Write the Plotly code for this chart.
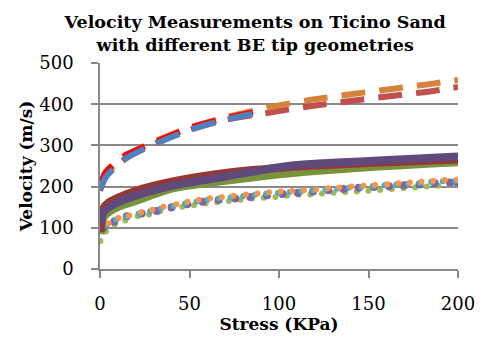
import plotly.graph_objects as go

# ---- Data ----
# Dashed series
dash_x_long = [0, 3, 8, 15, 28, 50, 70, 95, 117, 140, 163, 186, 200]
dash_orange = [200, 228, 250, 275, 305, 343, 368, 393, 410, 424, 437, 450, 459]
dash_darkred = [190, 222, 245, 270, 300, 338, 362, 380, 395, 408, 420, 432, 442]
dash_x_short = [0, 3, 8, 15, 28, 50, 70, 92]
dash_red = [202, 234, 256, 278, 303, 342, 366, 386]
dash_blue = [193, 222, 245, 270, 298, 337, 362, 382]

# Solid series
solid_x = [0.3, 2, 5, 10, 20, 40, 70, 105, 150, 200]
solid_red = [90, 148, 162, 173, 190, 212, 233, 247, 257, 266]
solid_purple = [108, 138, 150, 162, 178, 202, 224, 250, 262, 273]
solid_green = [85, 125, 138, 150, 165, 195, 214, 232, 247, 259]

# Dotted series
dot_green_x = [0.2, 3.3, 8.2, 14.1, 21.1, 27.4, 33.5, 39.6, 46, 52.5, 59, 65.5, 72, 78.5, 85, 91.5,
               98, 104.5, 111, 117.5, 124, 130.5, 137, 143.5, 150, 156.5, 163, 169.5, 176, 182.5, 189, 195.5]
dot_green = [68, 91, 108, 118, 128, 132, 140, 146, 151, 155, 159, 162, 165, 168, 171, 173,
             175, 178, 180, 181, 183, 185, 187, 188, 190, 192, 194, 196, 198, 200, 202, 205]
dot_purple_x = [2, 8, 15, 23.3, 31.7, 40, 48.7, 57.4, 66.3, 75.5, 84, 93.3, 102, 110.5, 119, 127.5,
                136, 144.5, 153, 161.5, 170, 178.5, 187, 195.5, 199]
dot_purple = [100, 115, 128, 135, 141, 150, 157, 163, 168, 171, 175, 179, 182, 185, 188, 191,
              194, 197, 199, 201, 203, 205, 208, 210, 211]
dot_cyan_x = [0.5, 3.5, 9, 15, 21.5, 28, 34, 41, 47.5, 54, 60, 66.5, 73, 80, 86.5, 93, 99.5, 106,
              112.5, 119, 126, 132.5, 139, 146, 152.5, 159, 165.5, 172, 178.5, 185, 191.5, 198.5]
dot_cyan = [95, 106, 120, 127, 134, 140, 147, 153, 159, 164, 168, 171, 174, 177, 180, 183, 185, 187,
            189, 191, 193, 195, 197, 199, 201, 203, 205, 207, 209, 211, 213, 214]
dot_orange_x = [1, 4.8, 10.4, 16.3, 22.9, 29.3, 35.4, 42.6, 48.9, 55.2, 61.5, 68.1, 74.6, 81.5, 88, 94.4,
                100.9, 107.4, 113.9, 120.7, 127.4, 133.7, 140.4, 147.2, 153.7, 160.4, 166.7, 173.1,
                179.6, 186.1, 192.6, 199.6]
dot_orange = [98, 111, 124, 130, 137, 144, 151, 157, 163, 168, 172, 175, 178, 181, 183, 186,
              188, 189.5, 191, 193, 196, 198, 200.5, 202, 204, 205.5, 208, 210, 212, 214, 216, 217]

x_ticks = [0, 50, 100, 150, 200]
y_ticks = [0, 100, 200, 300, 400, 500]

FONT = "DejaVu Serif"
GRID = "#898989"

fig = go.Figure()

def dots(x, y, color, size):
    fig.add_trace(go.Scatter(x=x, y=y, mode="markers",
                             marker=dict(color=color, size=size, line=dict(width=0)),
                             showlegend=False, hoverinfo="skip"))

def solid(x, y, color):
    fig.add_trace(go.Scatter(x=x, y=y, mode="lines",
                             line=dict(color=color, width=8, shape="spline", smoothing=0.8),
                             showlegend=False, hoverinfo="skip"))

def dashed(x, y, color):
    fig.add_trace(go.Scatter(x=x, y=y, mode="lines",
                             line=dict(color=color, width=6, dash="24px,14px", shape="spline", smoothing=0.8),
                             showlegend=False, hoverinfo="skip"))

dots(dot_green_x, dot_green, "#9BBB59", 6)
dots(dot_purple_x, dot_purple, "#8064A2", 8)
dots(dot_cyan_x, dot_cyan, "#4BACC6", 6)
dots(dot_orange_x, dot_orange, "#F79646", 6)

solid(solid_x, solid_green, "#77933C")
solid(solid_x, solid_red, "#953735")
solid(solid_x, solid_purple, "#604A7B")

dashed(dash_x_long, dash_darkred, "#C0504D")
dashed(dash_x_long, dash_orange, "#D7823C")
dashed(dash_x_short, dash_red, "#FF0000")
dashed(dash_x_short, dash_blue, "#4F81BD")

fig.update_layout(
    width=487, height=343,
    margin=dict(l=100, r=27, t=63, b=66),
    paper_bgcolor="white", plot_bgcolor="white",
    font=dict(family=FONT, color="#000000", size=18),
    title=dict(text="<b>Velocity Measurements on Ticino Sand<br>with different BE tip geometries</b>",
               x=0.524, xanchor="center", xref="container",
               y=0.918, yanchor="top", yref="container",
               font=dict(family=FONT, size=17.5, color="#000000")),
    xaxis=dict(range=[0, 200], tickvals=x_ticks, ticks="outside", ticklen=7, tickcolor=GRID,
               tickwidth=1.5, showline=True, linecolor=GRID, linewidth=1.5,
               showgrid=False, zeroline=False, ticklabelstandoff=11,
               tickfont=dict(family=FONT, size=18),
               title=dict(text="<b>Stress (KPa)</b>", font=dict(family=FONT, size=17), standoff=5)),
    yaxis=dict(range=[0, 500], tickvals=y_ticks, ticks="outside", ticklen=7, tickcolor=GRID,
               tickwidth=1.5, showline=True, linecolor=GRID, linewidth=1.5,
               showgrid=True, gridcolor=GRID, gridwidth=1.5, zeroline=False,
               ticklabelstandoff=14,
               tickfont=dict(family=FONT, size=18),
               title=dict(text="<b>Velocity (m/s)</b>", font=dict(family=FONT, size=17), standoff=2)),
)

# Remove the browser's default 8px body margin so the figure fills the window exactly.
fig.write_html("out.html",
               config={"displayModeBar": False},
               post_script="document.body.style.margin='0';document.body.style.overflow='hidden';")
